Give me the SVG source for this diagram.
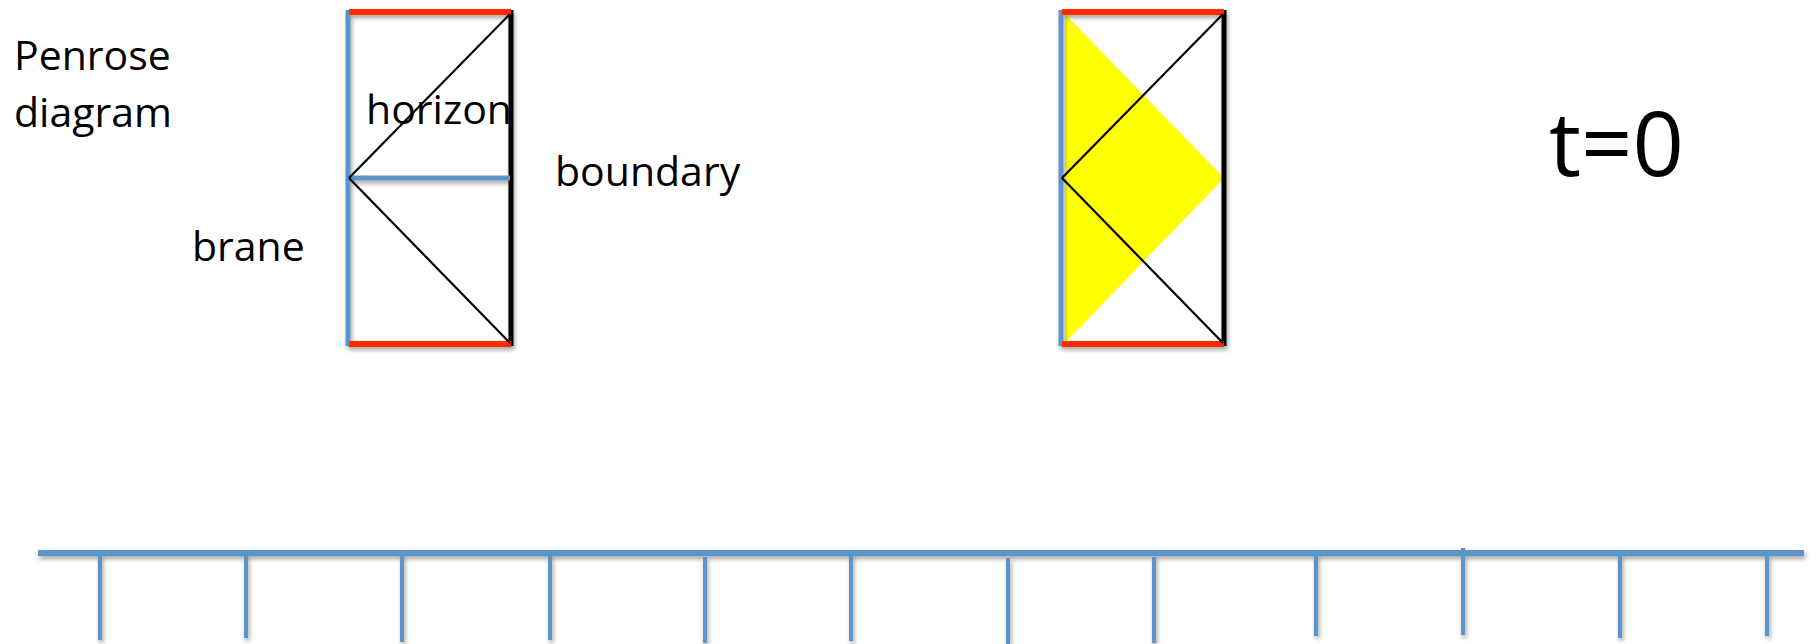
<svg xmlns="http://www.w3.org/2000/svg" width="1818" height="644" viewBox="0 0 1818 644">
  <defs>
    <filter id="shadow" x="-5%" y="-5%" width="110%" height="120%">
      <feDropShadow dx="1.5" dy="3" stdDeviation="2" flood-color="#000" flood-opacity="0.35"/>
    </filter>
  </defs>
  <style>
    text { font-family: "Open Sans", "Liberation Sans", sans-serif; fill: #000; }
    .lbl { font-size: 41px; }
    .big { font-size: 90px; }
    .blue { stroke: #5D94CC; fill: none; stroke-linecap: butt; }
    .red { stroke: #FF2A00; stroke-width: 6; fill: none; }
    .edge { stroke: #000; stroke-width: 5; fill: none; }
    .diag { stroke: #000; stroke-width: 2.2; fill: none; }
  </style>
  <rect width="1818" height="644" fill="#fff"/>

  <g id="label-penrose">
    <text class="lbl" x="14" y="70">Penrose</text>
    <text class="lbl" x="14" y="127">diagram</text>
  </g>

  <g id="penrose-left">
    <g filter="url(#shadow)">
      <line class="edge" x1="511" y1="10" x2="511" y2="346"/>
      <line class="blue" stroke-width="5" x1="348" y1="10" x2="348" y2="346"/>
      <line class="red" x1="349" y1="12" x2="511" y2="12"/>
      <line class="red" x1="349" y1="344" x2="511" y2="344"/>
      <line class="blue" stroke-width="5" x1="348" y1="178" x2="510" y2="178"/>
    </g>
    <line class="diag" x1="349" y1="178" x2="510" y2="14"/>
    <line class="diag" x1="349" y1="178" x2="510" y2="343"/>
    <text class="lbl" x="366" y="124">horizon</text>
  </g>

  <g id="label-boundary">
    <text class="lbl" x="555" y="186">boundary</text>
  </g>
  <g id="label-brane">
    <text class="lbl" x="192" y="261">brane</text>
  </g>

  <g id="penrose-right">
    <polygon points="1065,14 1224,178 1065,343" fill="#FFFF00"/>
    <g filter="url(#shadow)">
      <line class="edge" x1="1224" y1="10" x2="1224" y2="346"/>
      <line class="blue" stroke-width="5" x1="1061" y1="10" x2="1061" y2="346"/>
      <line class="red" x1="1062" y1="12" x2="1224" y2="12"/>
      <line class="red" x1="1062" y1="344" x2="1224" y2="344"/>
    </g>
    <line class="diag" x1="1062" y1="178" x2="1223" y2="14"/>
    <line class="diag" x1="1062" y1="178" x2="1223" y2="343"/>
  </g>

  <g id="label-t0">
    <text class="big" x="1549" y="176">t=0</text>
  </g>

  <g id="timeline" filter="url(#shadow)">
    <line class="blue" stroke-width="6" x1="38" y1="553" x2="1804" y2="553"/>
    <g stroke-width="4" class="blue">
      <line class="blue" x1="100" y1="555" x2="100" y2="640"/>
      <line class="blue" x1="246" y1="553" x2="246" y2="638"/>
      <line class="blue" x1="402" y1="556" x2="402" y2="642"/>
      <line class="blue" x1="550" y1="556" x2="550" y2="640"/>
      <line class="blue" x1="705" y1="557" x2="705" y2="643"/>
      <line class="blue" x1="851" y1="556" x2="851" y2="641"/>
      <line class="blue" x1="1008" y1="558" x2="1008" y2="644"/>
      <line class="blue" x1="1154" y1="557" x2="1154" y2="643"/>
      <line class="blue" x1="1316" y1="550" x2="1316" y2="636"/>
      <line class="blue" x1="1463" y1="548" x2="1463" y2="635"/>
      <line class="blue" x1="1620" y1="553" x2="1620" y2="638"/>
      <line class="blue" x1="1767" y1="550" x2="1767" y2="636"/>
    </g>
  </g>
</svg>
